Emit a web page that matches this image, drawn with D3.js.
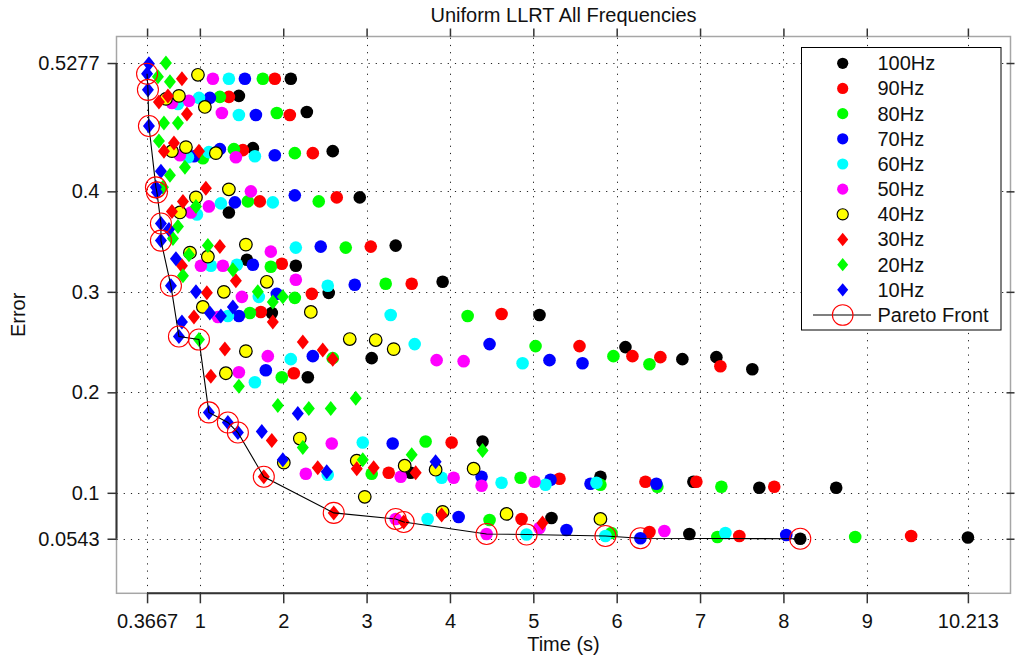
<!DOCTYPE html>
<html>
<head>
<meta charset="utf-8">
<script src="https://cdn.jsdelivr.net/npm/d3@7"></script>
<style>
  body { margin: 0; background: #fff; }
  text { font-family: "Liberation Sans", Arial, Helvetica, sans-serif; fill: #111; }
</style>
</head>
<body>
<svg id="chart" width="1015" height="662"></svg>
<script>
// ---- data: [time (s), error] per frequency ----
const xTicks = [0.3667, 1, 2, 3, 4, 5, 6, 7, 8, 9, 10.213];
const xTickLabels = ["0.3667", "1", "2", "3", "4", "5", "6", "7", "8", "9", "10.213"];
const yTicks = [0.0543, 0.1, 0.2, 0.3, 0.4, 0.5277];
const yTickLabels = ["0.0543", "0.1", "0.2", "0.3", "0.4", "0.5277"];

const hz100 = [[2.091,0.512],[1.468,0.495],[2.283,0.479],[1.636,0.443],[2.594,0.440],[1.348,0.379],[2.918,0.394],
  [1.564,0.332],[2.151,0.326],[2.546,0.299],[3.349,0.346],[3.912,0.310],[1.863,0.279],[5.074,0.277],[2.295,0.215],
  [3.061,0.234],[6.105,0.245],[6.788,0.233],[7.196,0.235],[7.627,0.223],[4.391,0.151],[3.529,0.120],[5.805,0.116],
  [6.920,0.111],[7.711,0.105],[8.633,0.105],[5.218,0.075],[6.872,0.059],[8.202,0.0543],[10.213,0.0555]];
const hz90 = [[1.899,0.512],[1.348,0.494],[2.079,0.476],[1.516,0.441],[2.355,0.438],[1.719,0.390],[2.642,0.394],
  [1.983,0.328],[2.343,0.298],[3.050,0.345],[3.541,0.308],[1.731,0.280],[4.619,0.278],[2.127,0.219],[5.554,0.246],
  [6.189,0.236],[6.524,0.235],[7.244,0.226],[4.020,0.150],[3.265,0.120],[5.314,0.114],[6.345,0.111],[6.956,0.111],
  [7.890,0.106],[4.859,0.074],[6.393,0.061],[7.471,0.057],[9.532,0.057]];
const hz80 = [[1.755,0.512],[1.240,0.494],[1.923,0.478],[1.408,0.442],[2.139,0.438],[1.036,0.433],[1.576,0.390],
  [2.426,0.390],[1.851,0.325],[2.750,0.344],[3.229,0.308],[2.139,0.294],[1.600,0.279],[4.212,0.276],[1.983,0.215],
  [2.594,0.234],[5.027,0.246],[5.961,0.236],[6.393,0.228],[3.708,0.151],[3.061,0.119],[4.847,0.115],[5.805,0.108],
  [6.488,0.106],[7.256,0.106],[4.475,0.073],[5.937,0.060],[7.208,0.056],[8.861,0.056]];
const hz70 = [[1.540,0.512],[1.120,0.493],[1.672,0.476],[1.240,0.442],[1.899,0.436],[0.929,0.435],[1.420,0.389],
  [2.139,0.396],[1.636,0.327],[2.450,0.345],[2.858,0.307],[1.923,0.298],[1.468,0.276],[4.475,0.248],[5.194,0.232],
  [5.590,0.229],[2.355,0.236],[1.791,0.222],[3.313,0.149],[4.379,0.116],[5.206,0.113],[5.686,0.109],[6.476,0.109],
  [4.104,0.076],[5.398,0.063],[6.285,0.0548],[8.034,0.058]];
const hz60 = [[1.348,0.512],[0.989,0.493],[0.737,0.487],[1.468,0.476],[1.660,0.435],[0.857,0.434],[1.108,0.439],
  [1.252,0.388],[1.875,0.389],[0.965,0.377],[1.444,0.327],[1.132,0.326],[2.151,0.344],[2.534,0.306],[1.707,0.295],
  [1.336,0.276],[3.289,0.277],[2.091,0.233],[3.577,0.248],[4.871,0.229],[1.660,0.210],[2.954,0.150],[2.534,0.118],
  [3.900,0.115],[4.619,0.110],[5.146,0.108],[5.757,0.110],[3.732,0.074],[4.919,0.0585],[5.865,0.057],[7.304,0.060]];
const hz50 = [[1.156,0.512],[0.665,0.488],[0.869,0.490],[1.264,0.478],[0.761,0.436],[1.432,0.434],[1.612,0.400],
  [1.108,0.385],[0.893,0.379],[1.012,0.326],[1.276,0.326],[1.851,0.340],[2.151,0.312],[1.504,0.295],[1.216,0.275],
  [1.815,0.236],[3.840,0.232],[4.164,0.231],[1.468,0.220],[2.582,0.149],[2.271,0.119],[3.409,0.116],[4.044,0.115],
  [4.379,0.107],[5.015,0.111],[3.349,0.074],[5.074,0.065],[4.439,0.059],[6.572,0.062]];
const hz40 = [[0.977,0.516],[0.593,0.492],[0.749,0.495],[1.060,0.484],[0.665,0.440],[0.833,0.444],[1.192,0.438],
  [1.348,0.402],[0.953,0.394],[0.761,0.379],[0.881,0.339],[1.096,0.335],[1.552,0.347],[1.288,0.300],[1.803,0.310],
  [1.036,0.285],[2.331,0.280],[1.552,0.241],[1.312,0.219],[2.798,0.253],[3.109,0.252],[3.325,0.243],[2.199,0.154],
  [2.007,0.130],[2.882,0.132],[3.457,0.127],[3.828,0.123],[4.284,0.124],[2.978,0.096],[3.912,0.081],[4.679,0.079],
  [5.805,0.074]];
const hz30 = [[0.785,0.512],[0.509,0.489],[0.617,0.495],[0.845,0.477],[0.569,0.440],[0.689,0.448],[0.989,0.440],
  [1.072,0.403],[0.797,0.390],[0.665,0.380],[0.785,0.326],[1.240,0.345],[1.432,0.311],[1.084,0.299],[0.929,0.275],
  [1.875,0.270],[1.300,0.243],[2.235,0.250],[2.474,0.242],[2.594,0.233],[1.132,0.216],[1.863,0.152],[2.414,0.125],
  [2.882,0.124],[3.085,0.125],[3.589,0.120],[1.767,0.116],[2.606,0.080],[3.445,0.071],[3.900,0.078],[5.110,0.070]];
const hz20 = [[0.593,0.5277],[0.497,0.514],[0.641,0.509],[0.569,0.468],[0.737,0.468],[0.509,0.450],[0.641,0.416],
  [0.821,0.424],[0.557,0.404],[0.953,0.385],[0.737,0.365],[0.677,0.353],[0.869,0.337],[1.096,0.346],[0.797,0.316],
  [1.396,0.322],[1.695,0.300],[1.875,0.290],[1.995,0.295],[0.989,0.2525],[1.468,0.206],[1.935,0.187],[2.307,0.184],
  [2.570,0.184],[2.870,0.194],[2.235,0.145],[2.954,0.133],[3.541,0.138],[4.391,0.142]];
const hz10 = [[0.389,0.527],[0.3667,0.517],[0.377,0.501],[0.389,0.465],[0.533,0.420],[0.473,0.404],[0.485,0.399],
  [0.533,0.368],[0.629,0.362],[0.533,0.351],[0.713,0.333],[0.653,0.306],[0.953,0.300],[0.785,0.270],[1.120,0.279],
  [1.252,0.276],[1.396,0.285],[0.749,0.2555],[1.108,0.180],[1.336,0.170],[1.456,0.160],[1.743,0.161],[2.175,0.179],
  [1.995,0.133],[2.522,0.121],[3.828,0.131]];

// Pareto-optimal (time, error) points, in order of increasing time
const paretoTime  = [0.3667,0.377,0.389,0.473,0.485,0.533,0.533,0.653,0.749,0.989,1.108,1.336,1.456,1.767,2.606,
  3.349,3.445,4.439,4.919,5.865,6.285,8.202];
const paretoError = [0.517,0.501,0.465,0.404,0.399,0.368,0.351,0.306,0.2555,0.2525,0.180,0.170,0.160,0.116,0.080,
  0.074,0.071,0.059,0.0585,0.057,0.0548,0.0543];

const seriesNames = ["100Hz","90Hz","80Hz","70Hz","60Hz","50Hz","40Hz","30Hz","20Hz","10Hz"];
const seriesData = [hz100, hz90, hz80, hz70, hz60, hz50, hz40, hz30, hz20, hz10];

// ---- styling ----
const styles = [
  {shape:"circle", fill:"#000000"},
  {shape:"circle", fill:"#ff0000"},
  {shape:"circle", fill:"#00ff00"},
  {shape:"circle", fill:"#0000ff"},
  {shape:"circle", fill:"#00ffff"},
  {shape:"circle", fill:"#ff00ff"},
  {shape:"circle", fill:"#ffff00", stroke:"#000"},
  {shape:"diamond", fill:"#ff0000"},
  {shape:"diamond", fill:"#00ff00"},
  {shape:"diamond", fill:"#0000ff"}
];

const svg = d3.select("#chart");
const box = {left:116.5, right:1010.5, top:36.5, bottom:593.3};
const x = d3.scaleLinear().domain([0, 10.724]).range([box.left, box.right]);
const y = d3.scaleLinear().domain([0, 0.5541]).range([box.bottom, box.top]);

// axes frame (light grey box)
svg.append("rect")
  .attr("x", box.left).attr("y", box.top)
  .attr("width", box.right - box.left).attr("height", box.bottom - box.top)
  .attr("fill", "#fff").attr("stroke", "#a6a6a6").attr("stroke-width", 1.5);

// dotted grid
const grid = svg.append("g").attr("stroke", "#222").attr("stroke-width", 1)
  .attr("stroke-dasharray", "1.2,6");
grid.selectAll("line.v").data(xTicks).join("line").attr("class","v")
  .attr("x1", d => Math.round(x(d)) + 0.5).attr("x2", d => Math.round(x(d)) + 0.5)
  .attr("y1", box.bottom).attr("y2", box.top);
grid.selectAll("line.h").data(yTicks).join("line").attr("class","h")
  .attr("y1", d => Math.round(y(d)) + 0.5).attr("y2", d => Math.round(y(d)) + 0.5)
  .attr("x1", box.left).attr("x2", box.right);

// axes with ticks
const fontSize = 20;
const bottomAxis = svg.append("g").attr("transform", `translate(0,${box.bottom})`)
  .call(d3.axisBottom(x).tickValues(xTicks).tickFormat((d,i) => xTickLabels[i])
    .tickSize(10).tickSizeOuter(0).tickPadding(10.5));
const topAxis = svg.append("g").attr("transform", `translate(0,${box.top})`)
  .call(d3.axisTop(x).tickValues(xTicks).tickFormat("").tickSize(8).tickSizeOuter(0));
const leftAxis = svg.append("g").attr("transform", `translate(${box.left},0)`)
  .call(d3.axisLeft(y).tickValues(yTicks).tickFormat((d,i) => yTickLabels[i])
    .tickSize(9).tickSizeOuter(0).tickPadding(8));
const rightAxis = svg.append("g").attr("transform", `translate(${box.right},0)`)
  .call(d3.axisRight(y).tickValues(yTicks).tickFormat("").tickSize(4).tickSizeOuter(0));
rightAxis.selectAll(".tick line").attr("x1", -4);

[bottomAxis, topAxis, leftAxis, rightAxis].forEach(g => {
  g.select(".domain").remove();
  g.selectAll(".tick line").attr("stroke", "#333").attr("stroke-width", 1.5);
  g.selectAll("text").attr("font-size", fontSize).attr("fill", "#111")
    .attr("font-family", "Liberation Sans, Arial, sans-serif");
});

// dark axis spines over the tick range
svg.append("line").attr("x1", x(xTicks[0])).attr("x2", x(xTicks[xTicks.length-1]))
  .attr("y1", box.bottom).attr("y2", box.bottom).attr("stroke", "#333").attr("stroke-width", 2);
svg.append("line").attr("x1", box.left).attr("x2", box.left)
  .attr("y1", y(yTicks[0])).attr("y2", y(yTicks[yTicks.length-1])).attr("stroke", "#333").attr("stroke-width", 2);

// markers
const diamond = (w, h) => `M0,${-h}L${w},0L0,${h}L${-w},0Z`;
const plot = svg.append("g");
seriesData.forEach((data, i) => {
  const st = styles[i];
  const g = plot.append("g");
  if (st.shape === "circle") {
    g.selectAll("circle").data(data).join("circle")
      .attr("cx", d => x(d[0])).attr("cy", d => y(d[1])).attr("r", 6.3)
      .attr("fill", st.fill).attr("stroke", st.stroke || "none").attr("stroke-width", 1.2);
  } else {
    g.selectAll("path").data(data).join("path")
      .attr("transform", d => `translate(${x(d[0])},${y(d[1])})`)
      .attr("d", diamond(6, 7.5)).attr("fill", st.fill);
  }
});

// Pareto front
const pareto = paretoTime.map((t, i) => [t, paretoError[i]]);
plot.append("path").datum(pareto)
  .attr("d", d3.line().x(d => x(d[0])).y(d => y(d[1])))
  .attr("fill", "none").attr("stroke", "#000").attr("stroke-width", 1.1);
plot.selectAll("circle.pf").data(pareto).join("circle").attr("class", "pf")
  .attr("cx", d => x(d[0])).attr("cy", d => y(d[1])).attr("r", 10.5)
  .attr("fill", "none").attr("stroke", "#ff0000").attr("stroke-width", 1.1);

// titles
svg.append("text").attr("x", (box.left + box.right) / 2).attr("y", 21.5)
  .attr("text-anchor", "middle").attr("font-size", fontSize).text("Uniform LLRT All Frequencies");
svg.append("text").attr("x", (box.left + box.right) / 2).attr("y", 651)
  .attr("text-anchor", "middle").attr("font-size", fontSize).text("Time (s)");
svg.append("text").attr("transform", `translate(25,${(box.top + box.bottom) / 2}) rotate(-90)`)
  .attr("text-anchor", "middle").attr("font-size", fontSize).text("Error");

// legend
const lg = svg.append("g");
lg.append("rect").attr("x", 801.5).attr("y", 47.5).attr("width", 199.5).attr("height", 282.5)
  .attr("fill", "#fff").attr("stroke", "#000").attr("stroke-width", 1);
const rowY = i => 63.3 + i * 25.17;
const mx = 842.7, tx = 877.5;
seriesNames.forEach((name, i) => {
  const st = styles[i];
  if (st.shape === "circle") {
    lg.append("circle").attr("cx", mx).attr("cy", rowY(i)).attr("r", 5.6)
      .attr("fill", st.fill).attr("stroke", st.stroke || "none").attr("stroke-width", 1.1);
  } else {
    lg.append("path").attr("transform", `translate(${mx},${rowY(i)})`)
      .attr("d", diamond(5.5, 6.7)).attr("fill", st.fill);
  }
  lg.append("text").attr("x", tx).attr("y", rowY(i)).attr("dy", "0.35em")
    .attr("font-size", fontSize).text(name);
});
const pi = seriesNames.length;
lg.append("line").attr("x1", 813).attr("x2", 871).attr("y1", rowY(pi)).attr("y2", rowY(pi))
  .attr("stroke", "#000").attr("stroke-width", 1.1);
lg.append("circle").attr("cx", mx).attr("cy", rowY(pi)).attr("r", 10.3)
  .attr("fill", "none").attr("stroke", "#ff0000").attr("stroke-width", 1.1);
lg.append("text").attr("x", tx).attr("y", rowY(pi)).attr("dy", "0.35em")
  .attr("font-size", fontSize).text("Pareto Front");
</script>
</body>
</html>
